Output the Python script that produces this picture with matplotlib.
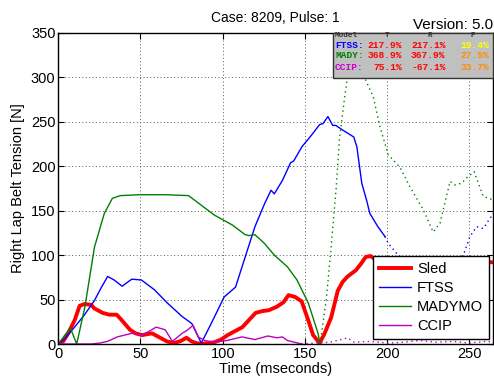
import matplotlib
matplotlib.use("Agg")
import matplotlib.pyplot as plt
from matplotlib.patches import Rectangle

plt.rcParams['font.family'] = ['Liberation Sans', 'DejaVu Sans']

# ---------------- data ----------------
sled_t = [0, 3, 6, 10, 13, 16, 20, 22, 27, 31, 35.5, 38.5, 43.6, 47, 51, 54, 57, 61, 66,
          70, 74, 78, 81, 84, 87, 91, 95, 99, 103, 108, 112, 116, 120, 124, 128, 133,
          137, 140, 144, 148, 152, 155, 159, 162, 166, 170, 173, 176, 181, 184, 187,
          190, 193, 196, 200, 210, 220, 230, 240, 250, 260, 265]
sled_v = [0, 3, 12, 27, 43, 45, 44, 40, 35, 33, 33, 27, 16, 12, 10, 11, 12, 8, 3,
          1, 3, 7, 3, 1, 0, 1, 2, 5, 10, 15, 19, 27, 35, 37, 38, 42,
          47, 55, 53, 48, 27, 10, 1, 12, 30, 60, 70, 76, 83, 90, 98,
          99, 95, 94, 97, 95, 92, 93, 95, 94, 92, 92]

ftss_t = [0, 4, 9.9, 16, 22, 26, 30, 34, 38.8, 44.7, 50.6, 58.5, 66.4, 75.3, 81.2, 87,
          93, 100.9, 107.8, 113.7, 119.6, 125.5, 129.4, 131.4, 136.3, 141.3, 143.2,
          148.2, 154, 159, 161, 164, 166.9, 168.8, 172.8, 179.7, 181.6, 184.6, 187.5,
          189.5, 194.4, 198.7]
ftss_v = [0, 6, 19, 33, 49, 63, 76, 72, 65, 73, 72, 61, 46, 31, 23, 1,
          23, 53, 64, 98, 132, 158, 173, 169, 184, 204, 206,
          222, 235, 247, 248, 256, 246, 246, 241, 233, 222, 181, 162,
          147, 132, 121]
ftss_ext_t = [198.7, 200.8, 205.8, 212, 222, 232, 242, 246.4, 250.4, 254.5, 258.5, 264.6]
ftss_ext_v = [121, 113, 102, 92, 85, 88, 95, 100, 121, 132, 130, 147]

mady_t = [0, 4, 7.3, 11.2, 16.2, 22, 28, 32.9, 37.8, 50, 65, 79.2, 87.1, 95, 105.8,
          113.7, 116, 119.6, 125.5, 131.4, 139.3, 145.2, 152.1, 158, 159.2]
mady_v = [0, 10, 18, 0, 42, 109, 147, 164, 167, 168, 168, 167, 156, 145, 134,
          123, 122, 123, 113, 100, 87, 72, 46, 12, 0]
mady_ext_t = [159.2, 163, 166, 169, 171, 174, 177, 180, 183, 186, 191.6, 195.7, 200.7,
              207.8, 213.9, 222, 228, 232.2, 238.3, 241.3, 245.4, 248.4, 252.9, 258.5,
              264.6]
mady_ext_v = [0, 50, 110, 175, 230, 275, 315, 338, 325, 301, 278, 244, 213,
              199, 177, 151, 126, 136, 183, 179, 181, 187, 194, 166,
              162]

ccip_t = [0, 10, 20, 25, 30, 35.9, 44.7, 50.6, 55, 59.5, 65, 69.4, 75.3, 78, 82, 85.1,
          89, 95, 102.8, 111.7, 119.6, 127.5, 133, 136.3, 139.3, 148]
ccip_v = [0, 0, 0, 1, 3, 8, 12, 10, 14, 19, 16, 3, 12, 15, 21, 8,
          4, 2, 4, 8, 5, 9, 7, 8, 4, 0]
ccip_ext_t = [148, 155, 165, 172, 176, 180, 190, 200, 210, 220, 230, 240, 250, 260, 265]
ccip_ext_v = [0, 1, 2, 5, 7, 2, 3, 1, 2, 4, 2, 3, 1, 3, 2]

series_names = ['Sled', 'FTSS', 'MADYMO', 'CCIP']
table_models = ['FTSS:', 'MADY:', 'CCIP:']
table_T = ['217.9%', '368.9%', '75.1%']
table_R = ['217.1%', '367.9%', '-67.1%']
table_P = ['19.4%', '27.5%', '33.7%']
table_P_colors = ['#ffff00', '#ff8c00', '#ff8c00']

xticks = [0, 50, 100, 150, 200, 250]
yticks = [0, 50, 100, 150, 200, 250, 300, 350]

# ---------------- figure ----------------
W, H = 494, 384
fig = plt.figure(figsize=(W / 100, H / 100), dpi=100)
ax_l, ax_r, ax_t, ax_b = 58.3, 493.3, 33, 344
ax = fig.add_axes([ax_l / W, 1 - ax_b / H, (ax_r - ax_l) / W, (ax_b - ax_t) / H])

RED, BLUE, GREEN, MAG = '#ff0000', '#0000ff', '#008000', '#bf00bf'

l_sled, = ax.plot(sled_t, sled_v, color=RED, lw=2.8, solid_joinstyle='round')
l_ftss, = ax.plot(ftss_t, ftss_v, color=BLUE, lw=1.0)
ax.plot(ftss_ext_t, ftss_ext_v, color=BLUE, lw=1.0, ls=(0, (1, 2.5)))
l_mady, = ax.plot(mady_t, mady_v, color=GREEN, lw=1.0)
ax.plot(mady_ext_t, mady_ext_v, color=GREEN, lw=1.0, ls=(0, (1, 2.5)))
l_ccip, = ax.plot(ccip_t, ccip_v, color=MAG, lw=1.0)
ax.plot(ccip_ext_t, ccip_ext_v, color=MAG, lw=1.0, ls=(0, (1, 2.5)))

ax.set_xlim(0, 264.6)
ax.set_ylim(0, 350)
ax.set_xticks(xticks)
ax.set_yticks(yticks)
ax.tick_params(direction='in', length=4, width=0.8, top=True, right=True,
               labelsize=10.5, pad=2)
ax.grid(True, color='0.35', linestyle=(0, (1, 2.5)), linewidth=0.7)
for s in ax.spines.values():
    s.set_linewidth(1.0)
ax.set_xlabel('Time (mseconds)', fontsize=10.5, labelpad=1)
ax.set_ylabel('Right Lap Belt Tension [N]', fontsize=10.5, labelpad=4)
ax.set_title('Case: 8209, Pulse: 1', fontsize=10, pad=8)

leg = ax.legend([l_sled, l_ftss, l_mady, l_ccip], series_names, loc='lower right',
                bbox_to_anchor=(0.990, 0.016), borderaxespad=0, fancybox=False,
                edgecolor='black', fontsize=10.5, handlelength=2.2,
                handletextpad=0.4, labelspacing=0.35, borderpad=0.4, framealpha=1)
leg.get_frame().set_linewidth(1.0)

fig.text(493 / W, 1 - 25 / H, 'Version: 5.0', ha='right', va='center', fontsize=11)

# stats table box
fig.patches.append(Rectangle((333 / W, 1 - 77.7 / H), 160 / W, 44.7 / H,
                             transform=fig.transFigure, facecolor='#c0c0c0',
                             edgecolor='#333333', linewidth=1.0, zorder=5))
mono = dict(family=['Liberation Mono', 'DejaVu Sans Mono'], fontweight='bold',
            fontsize=6.8, zorder=6)
hdr = dict(family=['Liberation Mono', 'DejaVu Sans Mono'], fontweight='bold',
           fontsize=5.5, color='#333333', zorder=6)


def fx(px):
    return px / W


def fy(py):
    return 1 - py / H


fig.text(fx(335), fy(35.5), 'Model', ha='left', va='center', **hdr)
fig.text(fx(387), fy(35.5), 'T', ha='center', va='center', **hdr)
fig.text(fx(430), fy(35.5), 'R', ha='center', va='center', **hdr)
fig.text(fx(473), fy(35.5), 'P', ha='center', va='center', **hdr)

row_y = [45, 56, 67]
model_colors = [BLUE, GREEN, '#cc00cc']
for i in range(3):
    fig.text(fx(335), fy(row_y[i]), table_models[i], ha='left', va='center',
             color=model_colors[i], **mono)
    fig.text(fx(402), fy(row_y[i]), table_T[i], ha='right', va='center',
             color=RED, **mono)
    fig.text(fx(445.5), fy(row_y[i]), table_R[i], ha='right', va='center',
             color=RED, **mono)
    fig.text(fx(489.5), fy(row_y[i]), table_P[i], ha='right', va='center',
             color=table_P_colors[i], **mono)

fig.savefig('out.png', dpi=100)
